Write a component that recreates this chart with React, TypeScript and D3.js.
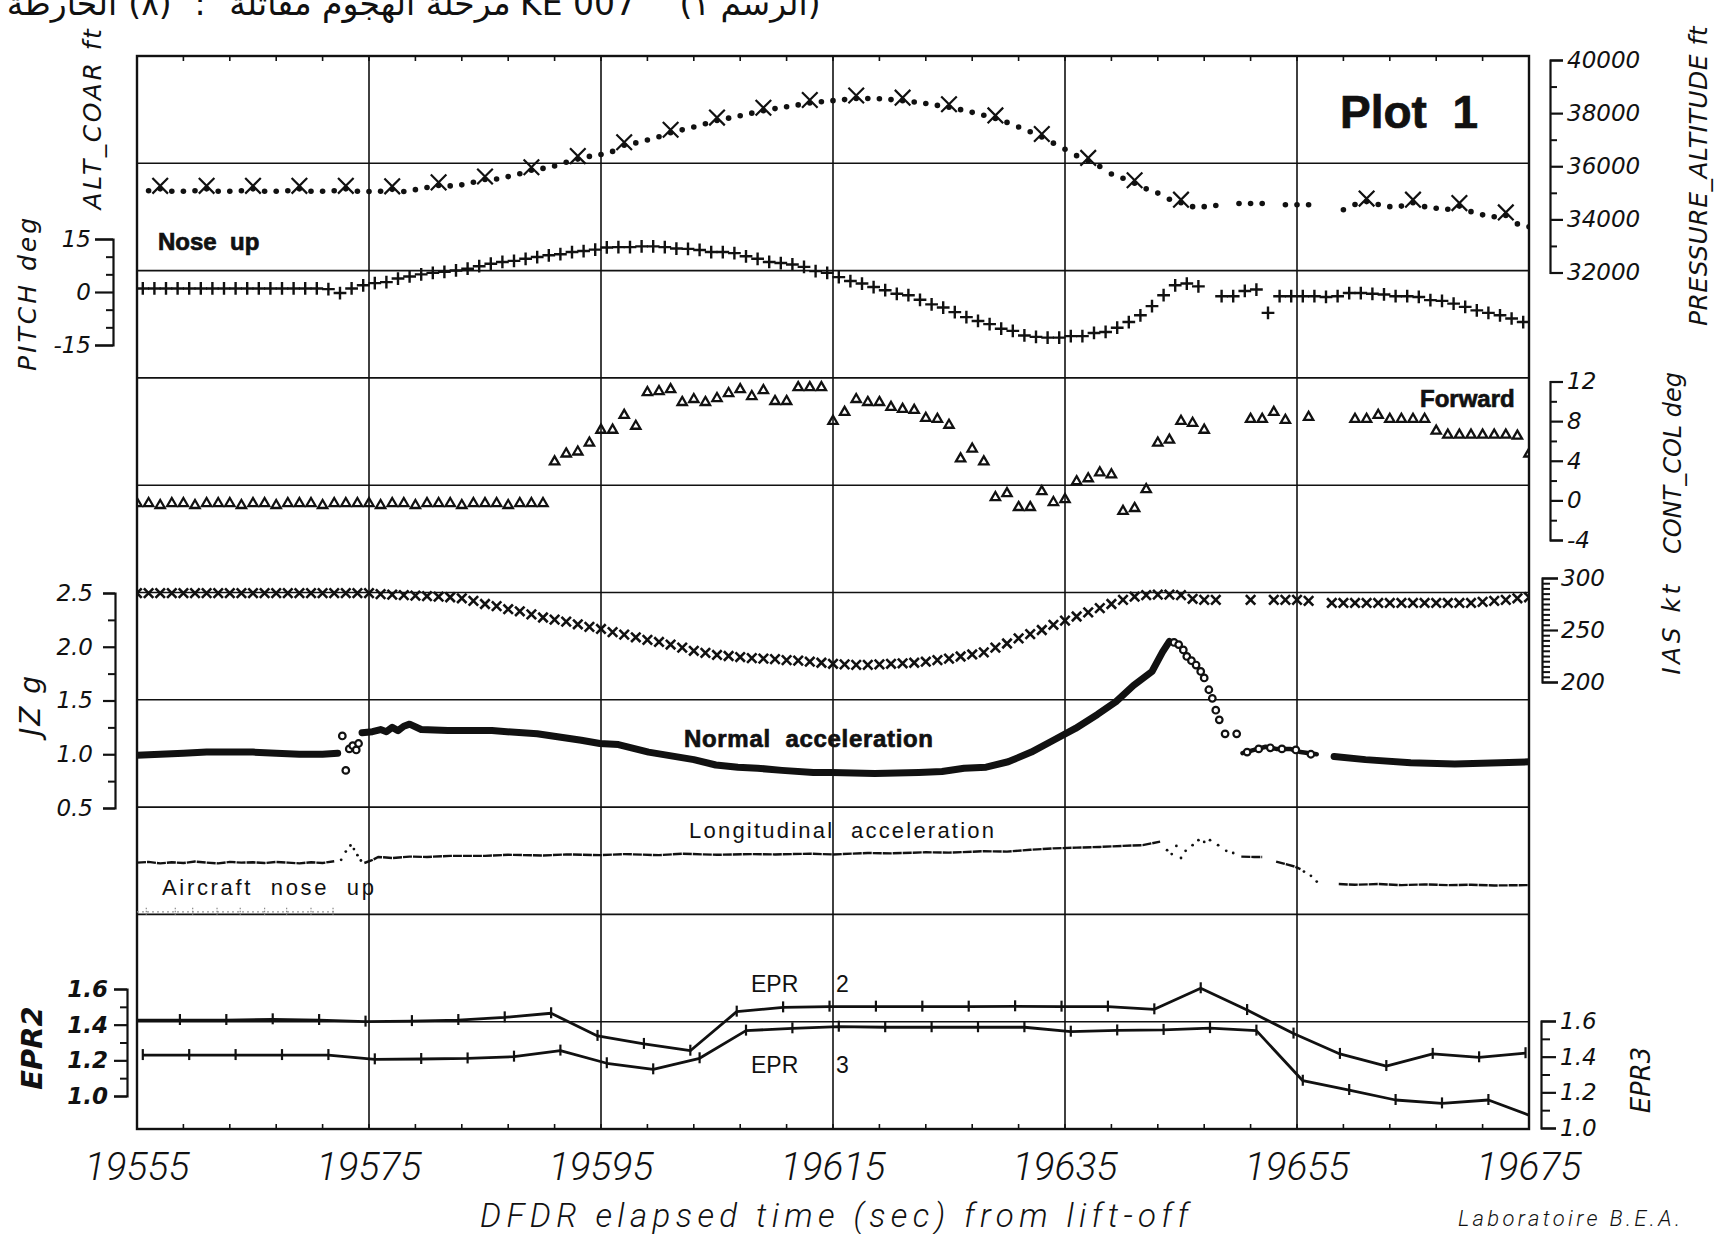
import { useEffect, useRef } from 'react';
import * as d3 from 'd3';

const W = 1722;
const H = 1234;

const timeDomain = [19555, 19675];
const timeLabels = [19555, 19575, 19595, 19615, 19635, 19655, 19675];

// header tokens, left to right as printed
const headerPieces = ['الخارطة', '(٨)', ':', 'مرحلة الهجوم مقاتلة', 'KE 007', '(الرسم ١)'];

// ALT_COAR / pressure altitude, ft, one sample per second from 19556 s (null = no sample)
const altStart = 19556;
const altFt = [
  35080, 35150, 35060, 35060, 35080, 35150, 35060, 35060, 35080, 35150,
  35060, 35060, 35080, 35150, 35060, 35060, 35080, 35150, 35060, 35050,
  35060, 35130, 35050, 35120, 35200, 35280, 35260, 35300, 35400, 35500,
  35520, 35610, 35720, 35850, 35920, 36010, 36150, 36270, 36370, 36440,
  36560, 36790, 36880, 36990, 37110, 37260, 37370, 37480, 37600, 37720,
  37810, 37900, 38000, 38090, 38170, 38240, 38310, 38380, 38430, 38470,
  38510, 38550, 38550, 38540, 38510, 38470, 38420, 38360, 38290, 38220,
  38130, 38030, 37920, 37800, 37650, 37480, 37300, 37100, 36870, 36640,
  36400, 36200, 35990, 35710, 35550, 35360, 35150, 34990, 34760, 34630,
  34480, 34480, 34520, null, 34600, 34600, 34600, null, 34550, 34550,
  34550, null, null, 34360, 34560, 34670, 34560, 34480, 34500, 34630,
  34480, 34420, 34380, 34500, 34290, 34170, 34100, 34150, 33830, 33720,
];

// PITCH, deg, one sample per second from 19555.5 s
const pitchStart = 19555.5;
const pitchDeg = [
  1.0, 1.0, 1.0, 1.0, 1.0, 1.0, 1.0, 1.0, 1.0, 1.0,
  1.0, 1.0, 1.0, 1.0, 1.0, 1.0, 0.8, -0.3, 1.0, 1.9,
  2.5, 2.8, 3.8, 4.4, 5.0, 5.4, 5.7, 6.1, 6.6, 7.3,
  8.0, 8.5, 8.8, 9.4, 9.9, 10.4, 10.7, 11.3, 11.6, 12.0,
  12.6, 12.7, 12.7, 12.9, 12.9, 12.7, 12.3, 12.2, 11.9, 11.3,
  11.3, 11.0, 10.1, 9.4, 8.5, 8.2, 7.8, 7.1, 5.9, 5.4,
  4.2, 3.1, 2.4, 1.4, 0.5, -0.5, -0.9, -2.2, -3.5, -4.4,
  -5.7, -7.1, -8.2, -9.1, -10.4, -11.0, -12.3, -12.7, -12.9, -12.9,
  -12.5, -12.5, -11.6, -11.3, -10.1, -8.5, -6.6, -4.0, -0.9, 1.9,
  2.4, 1.6, null, -1.2, -1.2, 0.3, 0.7, -5.9, -1.2, -1.2,
  -1.2, -1.2, -1.4, -1.2, -0.3, -0.3, -0.5, -0.7, -1.2, -1.2,
  -1.4, -2.3, -2.5, -3.3, -4.2, -5.2, -5.9, -6.6, -7.5, -8.5,
];

// CONT_COL, deg, one sample per second from 19555 s
const colStart = 19555;
const colDeg = [
  -0.3, -0.3, -0.5, -0.3, -0.3, -0.5, -0.3, -0.3, -0.3, -0.5,
  -0.3, -0.3, -0.5, -0.3, -0.3, -0.3, -0.5, -0.3, -0.3, -0.3,
  -0.3, -0.5, -0.3, -0.3, -0.5, -0.3, -0.3, -0.3, -0.5, -0.3,
  -0.3, -0.3, -0.5, -0.3, -0.3, -0.3, 3.9, 4.7, 4.9, 5.8,
  7.1, 7.1, 8.6, 7.5, 10.9, 11.0, 11.2, 9.9, 10.2, 9.9,
  10.3, 10.8, 11.2, 10.5, 11.1, 10.0, 10.0, 11.4, 11.4, 11.4,
  8.0, 8.9, 10.2, 9.9, 9.9, 9.4, 9.2, 9.1, 8.3, 8.2,
  7.6, 4.2, 5.2, 3.9, 0.3, 0.7, -0.7, -0.7, 0.9, -0.2,
  0.1, 1.9, 2.2, 2.8, 2.6, -1.1, -0.8, 1.1, 5.8, 6.1,
  8.0, 7.8, 7.1, null, null, null, 8.2, 8.2, 8.9, 8.1,
  null, 8.4, null, null, null, 8.2, 8.2, 8.6, 8.2, 8.2,
  8.2, 8.2, 7.0, 6.6, 6.6, 6.6, 6.6, 6.6, 6.6, 6.5,
  4.7,
];

// IAS, kt, one sample per second from 19555 s
const iasStart = 19555;
const iasKt = [
  285.5, 285.5, 285.5, 285.5, 285.5, 285.5, 285.5, 285.5, 285.5, 285.5,
  285.5, 285.5, 285.5, 285.5, 285.5, 285.5, 285.5, 285.5, 285.5, 285.5,
  285.5, 284.5, 284, 283.5, 283, 282.5, 282, 281.5, 280.5, 278,
  275, 273, 270, 268, 265, 262, 260, 258, 255.5, 253,
  251, 248, 245.5, 243, 240.5, 238.5, 236, 233, 230, 228,
  226, 225, 224, 223, 222.5, 222, 221, 220.5, 219.5, 218.5,
  217.5, 217, 216.5, 216.5, 217, 217.5, 218, 218.5, 219.5, 221,
  222.5, 224.5, 226.5, 228.5, 233, 237, 242, 246, 250, 255,
  259, 263, 267, 271, 275, 279, 282, 283.5, 284, 284,
  283.5, 280, 279, 279, null, null, 279, null, 279, 279,
  279, 278, null, 276, 276, 276, 276, 276, 276, 276,
  276, 276, 276, 276, 276, 276, 277, 278, 279, 280.5,
  281.5,
];

// JZ normal acceleration, g: [time s, value]
const jzTraceA = [
  [19555, 0.99], [19557, 1.0], [19559, 1.01], [19561, 1.02], [19563, 1.02],
  [19565, 1.02], [19567, 1.01], [19569, 1.0], [19571, 1.0], [19572.3, 1.01],
];
const jzTraceB = [
  [19574.4, 1.2], [19575.3, 1.21], [19576.0, 1.23], [19576.5, 1.21], [19577.0, 1.25],
  [19577.5, 1.22], [19578.0, 1.26], [19578.5, 1.28], [19579.5, 1.23], [19581.8, 1.22],
  [19585.6, 1.22], [19589.5, 1.19], [19593.3, 1.13], [19594.9, 1.1], [19596.5, 1.09],
  [19599.1, 1.02], [19603, 0.95], [19604.9, 0.9], [19606.8, 0.88], [19608.5, 0.87],
  [19610.6, 0.85], [19613.3, 0.83], [19614.9, 0.83], [19618.6, 0.82], [19622.4, 0.83],
  [19624.4, 0.84], [19626.3, 0.87], [19628.2, 0.88], [19630.1, 0.93], [19632.1, 1.02],
  [19634, 1.13], [19635.9, 1.24], [19637.8, 1.37], [19639.4, 1.49], [19640.9, 1.64],
  [19642.5, 1.77], [19643.4, 1.95], [19644, 2.05],
];
const jzTraceC = [
  [19650.3, 1.01], [19651.3, 1.04], [19652.3, 1.07], [19653.2, 1.05], [19654.4, 1.05],
  [19655.3, 1.02], [19656.7, 1.0],
];
const jzTraceD = [
  [19658.2, 0.98], [19660.9, 0.95], [19664.8, 0.92], [19668.6, 0.91], [19672.5, 0.92],
  [19675, 0.93],
];
const jzLoose = [
  [19572.7, 1.17], [19573.0, 0.85], [19573.3, 1.05], [19573.6, 1.08], [19573.9, 1.04],
  [19574.1, 1.1], [19644.4, 2.04], [19644.8, 2.02], [19645.2, 1.97], [19645.5, 1.91],
  [19645.9, 1.87], [19646.3, 1.83], [19646.7, 1.77], [19647.0, 1.71], [19647.4, 1.6],
  [19647.7, 1.52], [19648.0, 1.41], [19648.3, 1.32], [19648.8, 1.19], [19649.8, 1.19],
  [19650.7, 1.02], [19651.7, 1.05], [19652.7, 1.06], [19653.7, 1.05], [19654.9, 1.04],
  [19656.2, 1.0],
];

// longitudinal acceleration (no readable scale), g: [time s, value]
const jxTrace = [
  [
    [19555, -0.156], [19556, -0.154], [19557, -0.158], [19558, -0.155], [19559, -0.157],
    [19560, -0.153], [19561, -0.156], [19562, -0.158], [19563, -0.154], [19564, -0.156],
    [19565, -0.155], [19566, -0.157], [19567, -0.154], [19568, -0.156], [19569, -0.158],
    [19570, -0.155], [19571, -0.157], [19572, -0.152],
  ],
  [
    [19574.6, -0.157], [19575.2, -0.15], [19575.8, -0.14], [19577, -0.143], [19578.5, -0.139],
    [19580, -0.14], [19582, -0.137], [19585, -0.137], [19587, -0.134], [19590, -0.136],
    [19592, -0.133], [19595, -0.135], [19597, -0.132], [19600, -0.135], [19602, -0.131],
    [19605, -0.134], [19608, -0.132], [19610, -0.133], [19613, -0.131], [19615, -0.133],
    [19618, -0.129], [19620, -0.13], [19623, -0.127], [19625, -0.128], [19628, -0.124],
    [19630, -0.125], [19632, -0.12], [19634, -0.116], [19636, -0.114], [19638, -0.112],
    [19640, -0.109], [19641.7, -0.107], [19643.2, -0.097],
  ],
  [[19650.2, -0.139], [19651.3, -0.14], [19652, -0.14]],
  [[19653.2, -0.153], [19654, -0.16], [19654.8, -0.167], [19655.3, -0.174]],
  [
    [19658.6, -0.216], [19660, -0.218], [19662, -0.216], [19664, -0.219], [19666, -0.217],
    [19668, -0.219], [19670, -0.218], [19672, -0.22], [19675, -0.219],
  ],
];
const jxLoose = [
  [19572.6, -0.148], [19573.0, -0.125], [19573.4, -0.108], [19573.7, -0.118], [19574.0, -0.135],
  [19574.3, -0.15], [19643.8, -0.121], [19644.2, -0.132], [19644.6, -0.109], [19645.0, -0.143],
  [19645.4, -0.123], [19646.0, -0.107], [19646.5, -0.093], [19647.0, -0.098], [19647.5, -0.093],
  [19648.2, -0.107], [19648.9, -0.123], [19649.5, -0.129], [19655.6, -0.181], [19656.2, -0.193],
  [19656.7, -0.209],
];

// faint "aircraft nose up" trace, sample times
const noseUpTimes = [19555.8, 19558.3, 19559.8, 19561.9, 19563.9, 19566.0, 19567.9, 19570.0, 19571.9];

// EPR, one sample every 4 s
const epr2Start = 19554.7;
const epr2 = [
  1.426, 1.426, 1.426, 1.43, 1.426, 1.417, 1.42, 1.426, 1.441, 1.464,
  1.337, 1.292, 1.254, 1.473, 1.497, 1.501, 1.501, 1.501, 1.501, 1.503,
  1.501, 1.501, 1.486, 1.604, 1.482, 1.35, 1.236, 1.168, 1.236, 1.217,
  1.24,
];
const epr3Start = 19555.5;
const epr3 = [
  1.409, 1.409, 1.409, 1.409, 1.409, 1.385, 1.387, 1.39, 1.4, 1.434,
  1.363, 1.329, 1.391, 1.546, 1.559, 1.568, 1.565, 1.565, 1.565, 1.565,
  1.54, 1.547, 1.55, 1.56, 1.546, 1.265, 1.213, 1.157, 1.138, 1.157,
  1.06,
];

const seq = (start: number, vals: (number | null)[], step = 1) =>
  vals.map((v, i) => ({ t: start + i * step, v })).filter((d) => d.v !== null) as { t: number; v: number }[];

const INK = '#111';
const SANS = "'Liberation Sans', Arial, sans-serif";
const DJV = "'DejaVu Sans', sans-serif";
const THIN = "Roboto, 'DejaVu Sans', sans-serif";

export default function App() {
  const svgRef = useRef<SVGSVGElement>(null);

  useEffect(() => {
    const svg = d3.select(svgRef.current);
    svg.selectAll('*').remove();

    const left = 137, right = 1529, top = 56, bottom = 1129;
    const x = d3.scaleLinear().domain(timeDomain).range([left, right]);
    const row = d3.scaleLinear().domain([0, 10]).range([top, bottom]);

    const altY = d3.scaleLinear().domain([32000, 40000]).range([272.5, 60]);
    const pitchY = d3.scaleLinear().domain([-15, 15]).range([345, 239]);
    const colY = d3.scaleLinear().domain([-4, 12]).range([540, 381.5]);
    const iasY = d3.scaleLinear().domain([200, 300]).range([682, 578]);
    const jzY = d3.scaleLinear().domain([0.5, 2.5]).range([808, 593]);
    const jxY = d3.scaleLinear().domain([-0.3, 0.3]).range([914, 700]);
    const rateY = d3.scaleLinear().domain([-1, 1]).range([1021, 807]);
    const epr2Y = d3.scaleLinear().domain([1.0, 1.6]).range([1096, 989]);
    const epr3Y = d3.scaleLinear().domain([1.0, 1.6]).range([1128, 1021]);

    svg.append('defs').append('clipPath').attr('id', 'plot-clip')
      .append('rect').attr('x', left).attr('y', top).attr('width', right - left).attr('height', bottom - top);

    // header line, cut by the top of the page
    const headerX = [62, 150, 200, 370, 578, 750];
    svg.append('g').selectAll('text').data(headerPieces).join('text')
      .attr('x', (_, i) => headerX[i]).attr('y', 15)
      .attr('text-anchor', 'middle')
      .attr('direction', (d) => (d.startsWith('KE') ? 'ltr' : 'rtl'))
      .attr('font-family', DJV).attr('font-size', 33)
      .attr('fill', INK)
      .text((d) => d);

    // grid
    const grid = svg.append('g').attr('stroke', INK).attr('stroke-width', 1.6);
    d3.range(1, 10).forEach((i) => {
      grid.append('line').attr('x1', left).attr('x2', right).attr('y1', row(i)).attr('y2', row(i));
    });
    timeLabels.slice(1, -1).forEach((t) => {
      grid.append('line').attr('x1', x(t)).attr('x2', x(t)).attr('y1', top).attr('y2', bottom);
    });
    svg.append('rect')
      .attr('x', left).attr('y', top).attr('width', right - left).attr('height', bottom - top)
      .attr('fill', 'none').attr('stroke', INK).attr('stroke-width', 2.4);
    d3.range(19559, 19675, 4).forEach((t) => {
      grid.append('line').attr('x1', x(t)).attr('x2', x(t)).attr('y1', top).attr('y2', top + 5);
      grid.append('line').attr('x1', x(t)).attr('x2', x(t)).attr('y1', bottom).attr('y2', bottom - 5);
    });

    // axes
    const styleAxis = (g: any, bold = false) => {
      g.attr('font-family', DJV).attr('font-size', 23).attr('font-style', 'italic')
        .attr('font-weight', bold ? 'bold' : 'normal');
      g.selectAll('path, line').attr('stroke', INK).attr('stroke-width', 2.2);
      g.selectAll('text').attr('fill', INK);
    };
    const addAxis = (axis: any, xpos: number, bold = false) => {
      const g = svg.append('g').attr('transform', `translate(${xpos},0)`).call(axis);
      styleAxis(g, bold);
      return g;
    };
    const addMinor = (axis: any, xpos: number) => {
      const g = svg.append('g').attr('transform', `translate(${xpos},0)`).call(axis);
      g.select('.domain').remove();
      g.selectAll('text').remove();
      g.selectAll('line').attr('stroke', INK).attr('stroke-width', 2);
    };
    const fmt = (d: any) => String(d);
    const f1 = d3.format('.1f');

    addAxis(d3.axisRight(altY).tickValues(d3.range(32000, 40001, 2000)).tickSize(13).tickPadding(4).tickFormat(fmt), 1550);
    addMinor(d3.axisRight(altY).tickValues(d3.range(33000, 40000, 2000)).tickSize(7).tickSizeOuter(0), 1550);
    addAxis(d3.axisRight(colY).tickValues([-4, 0, 4, 8, 12]).tickSize(13).tickPadding(4).tickFormat(fmt), 1550);
    addMinor(d3.axisRight(colY).tickValues([-2, 2, 6, 10]).tickSize(7).tickSizeOuter(0), 1550);
    addAxis(d3.axisRight(iasY).tickValues([200, 250, 300]).tickSize(16).tickPadding(3).tickFormat(fmt), 1542);
    addMinor(d3.axisRight(iasY).tickValues(d3.range(205, 300, 5).filter((v) => v !== 250)).tickSize(8).tickSizeOuter(0), 1542);
    addAxis(d3.axisRight(epr3Y).tickValues([1.0, 1.2, 1.4, 1.6]).tickSize(15).tickPadding(4).tickFormat(f1), 1541);
    addMinor(d3.axisRight(epr3Y).tickValues([1.1, 1.3, 1.5]).tickSize(9).tickSizeOuter(0), 1541);

    addAxis(d3.axisLeft(pitchY).tickValues([-15, 0, 15]).tickSize(18).tickPadding(4).tickFormat(fmt), 113);
    addMinor(d3.axisLeft(pitchY).tickValues([-10, -5, 5, 10]).tickSize(7).tickSizeOuter(0), 113);
    addAxis(d3.axisLeft(jzY).tickValues([0.5, 1.0, 1.5, 2.0, 2.5]).tickSize(12).tickPadding(10).tickFormat(f1), 115);
    addMinor(d3.axisLeft(jzY).tickValues([0.75, 1.25, 1.75, 2.25]).tickSize(7).tickSizeOuter(0), 115);
    addAxis(d3.axisLeft(epr2Y).tickValues([1.0, 1.2, 1.4, 1.6]).tickSize(13).tickPadding(6).tickFormat(f1), 127, true);
    addMinor(d3.axisLeft(epr2Y).tickValues([1.1, 1.3, 1.5]).tickSize(7).tickSizeOuter(0), 127);

    // time labels
    svg.append('g').selectAll('text').data(timeLabels).join('text')
      .attr('x', (d) => x(d)).attr('y', 1180)
      .attr('text-anchor', 'middle')
      .attr('font-family', THIN).attr('font-size', 39).attr('font-style', 'italic').attr('font-weight', 300)
      .attr('fill', INK)
      .text((d) => String(d));
    svg.append('text')
      .attr('x', 480).attr('y', 1227)
      .attr('textLength', 708).attr('lengthAdjust', 'spacing')
      .attr('font-family', THIN).attr('font-size', 33).attr('font-style', 'italic').attr('font-weight', 300)
      .attr('fill', INK)
      .text('DFDR elapsed time (sec) from lift-off');
    svg.append('text')
      .attr('x', 1458).attr('y', 1226)
      .attr('textLength', 222).attr('lengthAdjust', 'spacing')
      .attr('font-family', THIN).attr('font-size', 22).attr('font-style', 'italic').attr('font-weight', 300)
      .attr('fill', INK)
      .text('Laboratoire B.E.A.');

    // rotated axis titles
    const vlabel = (txt: string, cx: number, cy: number, size: number, opts: any = {}) => {
      svg.append('text')
        .attr('transform', `translate(${cx},${cy}) rotate(-90)`)
        .attr('text-anchor', 'middle')
        .attr('font-family', DJV).attr('font-size', size).attr('font-style', 'italic')
        .attr('font-weight', opts.bold ? 'bold' : 'normal')
        .attr('letter-spacing', opts.ls ?? 0)
        .attr('fill', INK)
        .text(txt);
    };
    vlabel('ALT_COAR ft', 101, 118, 25, { ls: 2.5 });
    vlabel('PITCH deg', 36, 293, 25, { ls: 3 });
    vlabel('JZ g', 40, 705, 28, { ls: 2 });
    vlabel('EPR2', 42, 1048, 29, { bold: true });
    vlabel('PRESSURE_ALTITUDE ft', 1707, 176, 25, { ls: 0.5 });
    vlabel('CONT_COL deg', 1681, 463, 24);
    vlabel('IAS kt', 1680, 628, 25, { ls: 3.5 });
    vlabel('EPR3', 1650, 1080, 26);

    // in-plot annotations
    const note = (txt: string, px: number, py: number, size: number, opts: any = {}) => {
      const t = svg.append('text')
        .attr('x', px).attr('y', py)
        .attr('font-family', SANS).attr('font-size', size)
        .attr('font-weight', opts.bold ? 'bold' : 'normal')
        .attr('fill', INK)
        .style('white-space', 'pre')
        .text(txt);
      if (opts.bold) t.attr('stroke', INK).attr('stroke-width', 0.7);
      if (opts.len) t.attr('textLength', opts.len).attr('lengthAdjust', 'spacing');
    };
    note('Plot  1', 1340, 128, 46, { bold: true });
    note('Nose  up', 158, 250, 24, { bold: true });
    note('Forward', 1420, 407, 24, { bold: true });
    note('Normal  acceleration', 684, 747, 24, { bold: true, len: 249 });
    note('Longitudinal  acceleration', 689, 838, 22, { len: 305 });
    note('Aircraft  nose  up', 162, 895, 22, { len: 212 });
    note('EPR', 751, 992, 23);
    note('2', 836, 992, 23);
    note('EPR', 751, 1073, 23);
    note('3', 836, 1073, 23);

    const plot = svg.append('g').attr('clip-path', 'url(#plot-clip)');

    // ALT
    const alt = seq(altStart, altFt);
    plot.append('g').selectAll('circle').data(alt).join('circle')
      .attr('cx', (d) => x(d.t)).attr('cy', (d) => altY(d.v)).attr('r', 2.8).attr('fill', INK);
    const symX = d3.symbol(d3.symbolTimes, 160)();
    plot.append('g').selectAll('path').data(alt.filter((d) => (d.t - 19557) % 4 === 0)).join('path')
      .attr('transform', (d) => `translate(${x(d.t)},${altY(d.v) - 3})`)
      .attr('d', symX).attr('fill', 'none').attr('stroke', INK).attr('stroke-width', 2.2);

    // PITCH
    const symPlus = d3.symbol(d3.symbolPlus, 55)();
    plot.append('g').selectAll('path').data(seq(pitchStart, pitchDeg)).join('path')
      .attr('transform', (d) => `translate(${x(d.t)},${pitchY(d.v)})`)
      .attr('d', symPlus).attr('fill', 'none').attr('stroke', INK).attr('stroke-width', 2.4);

    // CONT_COL
    const symTri = d3.symbol(d3.symbolTriangle2, 62)();
    plot.append('g').selectAll('path').data(seq(colStart, colDeg)).join('path')
      .attr('transform', (d) => `translate(${x(d.t)},${colY(d.v)})`)
      .attr('d', symTri).attr('fill', 'none').attr('stroke', INK).attr('stroke-width', 2.3);

    // IAS
    const symSmallX = d3.symbol(d3.symbolTimes, 60)();
    plot.append('g').selectAll('path').data(seq(iasStart, iasKt)).join('path')
      .attr('transform', (d) => `translate(${x(d.t)},${iasY(d.v)})`)
      .attr('d', symSmallX).attr('fill', 'none').attr('stroke', INK).attr('stroke-width', 2.6);

    // JZ
    const jzLine = d3.line<number[]>().x((d) => x(d[0])).y((d) => jzY(d[1]));
    [jzTraceA, jzTraceB, jzTraceD].forEach((seg) => {
      plot.append('path').attr('d', jzLine(seg)).attr('fill', 'none').attr('stroke', INK)
        .attr('stroke-width', 7).attr('stroke-linejoin', 'round').attr('stroke-linecap', 'round');
    });
    plot.append('path').attr('d', jzLine(jzTraceC)).attr('fill', 'none').attr('stroke', INK)
      .attr('stroke-width', 4.5).attr('stroke-linejoin', 'round').attr('stroke-linecap', 'round');
    plot.append('g').selectAll('circle').data(jzLoose).join('circle')
      .attr('cx', (d) => x(d[0])).attr('cy', (d) => jzY(d[1])).attr('r', 3.3)
      .attr('fill', '#fff').attr('stroke', INK).attr('stroke-width', 2.2);

    // longitudinal acceleration
    const jxLine = d3.line<number[]>().x((d) => x(d[0])).y((d) => jxY(d[1]));
    jxTrace.forEach((seg) => {
      plot.append('path').attr('d', jxLine(seg)).attr('fill', 'none').attr('stroke', INK)
        .attr('stroke-width', 2.4).attr('stroke-dasharray', '9,1');
    });
    plot.append('g').selectAll('circle').data(jxLoose).join('circle')
      .attr('cx', (d) => x(d[0])).attr('cy', (d) => jxY(d[1])).attr('r', 1.4).attr('fill', INK);

    // faint nose-up trace
    plot.append('line')
      .attr('x1', x(19555)).attr('x2', x(19572)).attr('y1', rateY(0.02)).attr('y2', rateY(0.02))
      .attr('stroke', '#999').attr('stroke-width', 1.2).attr('stroke-dasharray', '2,3');
    plot.append('g').selectAll('line').data(noseUpTimes).join('line')
      .attr('x1', (d) => x(d)).attr('x2', (d) => x(d))
      .attr('y1', rateY(0.02) - 4).attr('y2', rateY(0.02) + 3)
      .attr('stroke', '#888').attr('stroke-width', 1.2).attr('stroke-dasharray', '1.5,1.5');

    // EPR
    const eprs = [
      { data: seq(epr2Start, epr2, 4), y: epr2Y },
      { data: seq(epr3Start, epr3, 4), y: epr3Y },
    ];
    eprs.forEach(({ data, y }) => {
      const line = d3.line<{ t: number; v: number }>().x((d) => x(d.t)).y((d) => y(d.v));
      plot.append('path').attr('d', line(data)).attr('fill', 'none').attr('stroke', INK)
        .attr('stroke-width', 2.8).attr('stroke-linejoin', 'round');
      plot.append('g').selectAll('line').data(data).join('line')
        .attr('x1', (d) => x(d.t)).attr('x2', (d) => x(d.t))
        .attr('y1', (d) => y(d.v) - 6).attr('y2', (d) => y(d.v) + 5)
        .attr('stroke', INK).attr('stroke-width', 2.2);
    });
  }, []);

  return (
    <svg
      ref={svgRef}
      width={W}
      height={H}
      viewBox={`0 0 ${W} ${H}`}
      style={{ position: 'absolute', left: 0, top: 0, background: '#fff' }}
    />
  );
}
